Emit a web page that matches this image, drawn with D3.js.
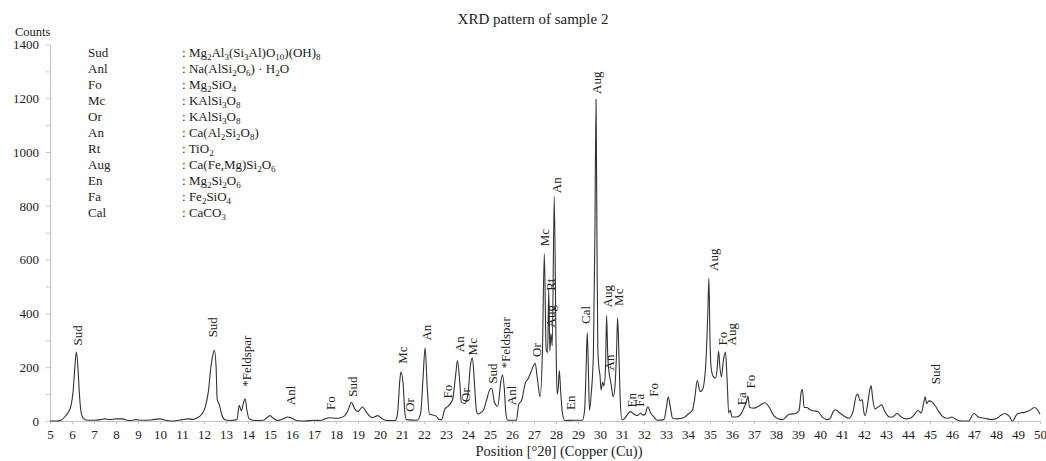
<!DOCTYPE html>
<html>
<head>
<meta charset="utf-8">
<script src="https://cdn.jsdelivr.net/npm/d3@7"></script>
<style>
  html, body { margin: 0; padding: 0; background: #fff; }
  svg { display: block; }
  text { font-family: "Liberation Serif", "Times New Roman", serif; fill: #222; }
</style>
</head>
<body>
<svg id="chart" width="1046" height="461"></svg>
<script>
// ---------------- DATA ----------------
const twoTheta = [
  5.0,5.3,5.5,5.7,5.85,5.95,6.05,6.12,6.2,6.27,6.33,6.4,6.5,6.7,7.0,7.3,7.5,7.7,8.0,8.3,8.5,8.7,8.9,9.2,9.6,10.0,10.2,10.5,10.8,11.0,11.3,11.5,11.7,11.9,
  12.05,12.2,12.3,12.4,12.47,12.55,12.6,12.7,12.8,12.95,13.2,13.5,13.6,13.7,13.8,13.87,13.95,14.05,14.3,14.7,14.9,15.0,15.15,15.35,15.6,15.8,15.95,16.2,16.6,
  17.0,17.3,17.5,17.7,18.0,18.2,18.4,18.55,18.7,18.85,19.0,19.2,19.4,19.65,19.9,20.1,20.3,20.7,20.8,20.9,20.95,21.05,21.12,21.2,21.7,21.85,21.95,22.05,
  22.15,22.25,22.4,22.55,22.7,22.8,22.95,23.1,23.3,23.45,23.52,23.62,23.7,23.85,24.0,24.1,24.2,24.3,24.38,24.45,24.55,24.7,24.85,25.0,25.08,25.2,25.35,
  25.5,25.57,25.65,25.72,25.8,26.2,26.3,26.45,26.6,26.75,26.9,27.05,27.15,27.28,27.38,27.47,27.55,27.62,27.67,27.72,27.77,27.83,27.92,28.0,28.05,28.1,
  28.15,28.22,28.3,28.4,28.8,29.2,29.3,29.37,29.42,29.47,29.52,29.6,29.7,29.77,29.82,29.86,29.9,29.95,30.0,30.05,30.12,30.18,30.25,30.3,30.35,30.42,
  30.5,30.6,30.68,30.75,30.8,30.86,30.92,31.0,31.1,31.25,31.4,31.55,31.7,31.85,31.95,32.05,32.17,32.3,32.45,32.6,32.9,33.02,33.1,33.2,33.3,33.5,33.8,
  34.0,34.2,34.3,34.42,34.55,34.65,34.8,34.9,34.95,35.0,35.05,35.15,35.25,35.32,35.39,35.45,35.52,35.6,35.7,35.78,35.85,35.92,36.0,36.2,36.4,36.55,
  36.65,36.72,36.8,37.0,37.2,37.5,37.7,37.9,38.1,38.3,38.6,38.9,39.05,39.15,39.2,39.28,39.4,39.55,39.7,39.9,40.1,40.3,40.45,40.6,40.7,40.9,41.1,41.3,
  41.5,41.65,41.72,41.82,41.92,41.98,42.05,42.15,42.25,42.32,42.4,42.5,42.6,42.7,42.8,42.95,43.15,43.3,43.5,43.7,43.9,44.1,44.3,44.45,44.6,44.72,
  44.78,44.85,44.95,45.1,45.25,45.4,45.6,45.8,46.0,46.2,46.5,46.75,47.0,47.2,47.5,47.8,48.0,48.2,48.4,48.6,48.75,48.95,49.1,49.3,49.5,49.75,49.9,50.0
];
const counts = [
  0,0,3,18,35,55,110,190,256,200,110,40,12,3,3,5,8,5,8,8,3,2,5,3,4,8,4,0,2,5,8,6,12,25,
  50,110,190,245,263,200,80,60,25,5,2,5,58,38,70,83,40,8,2,3,15,20,10,2,8,15,12,2,0,
  3,2,8,12,10,12,20,40,70,45,35,52,30,12,20,8,2,2,30,150,182,140,40,5,3,30,150,272,
  120,25,22,18,5,5,45,55,80,180,225,150,70,65,100,200,235,130,40,25,30,40,80,118,122,70,55,
  150,172,120,30,3,3,60,80,140,160,190,215,160,90,250,622,270,255,490,260,325,280,835,300,100,120,
  188,100,25,2,3,3,40,200,328,200,40,100,250,700,1196,700,274,200,170,115,145,130,200,392,250,176,
  140,90,130,250,383,250,80,5,8,25,35,25,20,30,22,25,53,30,15,3,5,50,90,50,10,8,12,
  25,40,80,150,110,115,200,400,531,300,200,165,160,190,260,200,164,220,256,150,30,40,15,15,25,50,
  70,92,50,48,55,68,50,20,8,5,25,28,40,110,118,50,50,42,38,35,15,5,8,35,42,30,18,10,
  35,95,100,75,80,40,20,55,110,132,80,45,50,55,60,35,15,15,28,15,8,10,25,40,30,70,
  90,65,75,70,55,35,15,10,15,5,0,0,28,15,10,5,8,20,28,18,0,25,30,32,38,50,40,25
];

const xTicks = d3.range(5, 51, 1);
const yTicks = [0, 200, 400, 600, 800, 1000, 1200, 1400];
const yMinorTicks = [100, 300, 500, 700, 900, 1100, 1300];

// peak labels: text, 2theta position, count level where the label starts
const labelText   = ["Sud","Sud","*Feldspar","Anl","Fo","Sud","Mc","Or","An","Fo","An","Or","Mc","Sud","*Feldspar","Anl",
                     "Or","Mc","Rt","Aug","An","En","Cal","Aug","Aug","Mc","An","En","Fa","Fo","Aug","Fo","Aug","Fa","Fo","Sud"];
const labelTheta  = [6.23,12.38,13.91,15.91,17.73,18.76,21.03,21.32,22.12,23.06,23.59,23.9,24.21,25.1,25.68,25.99,
                     27.12,27.47,27.73,27.73,28.03,28.64,29.36,29.85,30.33,30.83,30.45,31.44,31.8,32.42,35.15,35.55,35.99,36.44,36.86,45.23];
const labelCounts = [281,311,127,59,41,90,213,34,299,84,256,71,244,139,195,59,
                     238,650,484,348,847,41,361,1216,422,428,188,50,53,90,558,281,281,59,121,137];

// legend
const phaseCodes    = ["Sud","Anl","Fo","Mc","Or","An","Rt","Aug","En","Fa","Cal"];
const phaseFormulas = ["Mg2Al3(Si3Al)O10)(OH)8","Na(AlSi2O6) · H2O","Mg2SiO4","KAlSi3O8","KAlSi3O8",
                       "Ca(Al2Si2O8)","TiO2","Ca(Fe,Mg)Si2O6","Mg2Si2O6","Fe2SiO4","CaCO3"];

const titleText = "XRD pattern of sample 2";
const xTitle = "Position [°2θ] (Copper (Cu))";
const yTitle = "Counts";

// ---------------- DRAW ----------------
const svg = d3.select("#chart");
const plotLeft = 50, plotRight = 1040, plotTop = 44.5, plotBottom = 421;

const x = d3.scaleLinear().domain([5, 50]).range([plotLeft, plotRight]);
const y = d3.scaleLinear().domain([0, 1400]).range([plotBottom, plotTop]);

svg.append("rect").attr("width", 1046).attr("height", 461).attr("fill", "#fff");

const axisColor = "#c4c4c4";

// x axis
const gx = svg.append("g").attr("transform", `translate(0,${plotBottom})`)
  .call(d3.axisBottom(x).tickValues(xTicks).tickFormat(d3.format("d")).tickSize(3).tickSizeOuter(0));
gx.select(".domain").attr("stroke", axisColor);
gx.selectAll(".tick line").attr("stroke", axisColor);
gx.selectAll(".tick text").attr("font-size", 13).attr("font-family", "Liberation Serif, serif")
  .attr("fill", "#222").attr("dy", "0.71em").attr("y", 9);

// y axis
const gy = svg.append("g").attr("transform", `translate(${plotLeft},0)`)
  .call(d3.axisLeft(y).tickValues(yTicks).tickFormat(d3.format("d")).tickSize(4).tickSizeOuter(0));
gy.select(".domain").attr("stroke", axisColor);
gy.selectAll(".tick line").attr("stroke", axisColor);
gy.selectAll(".tick text").attr("font-size", 13).attr("font-family", "Liberation Serif, serif")
  .attr("fill", "#222").attr("x", -11);
const gyMinor = svg.append("g").attr("transform", `translate(${plotLeft},0)`)
  .call(d3.axisLeft(y).tickValues(yMinorTicks).tickFormat("").tickSize(4).tickSizeOuter(0));
gyMinor.select(".domain").remove();
gyMinor.selectAll(".tick line").attr("stroke", axisColor);

// curve
const pts = twoTheta.map((t, i) => [t, counts[i]]);
const line = d3.line().x(d => x(d[0])).y(d => y(d[1])).curve(d3.curveMonotoneX);
svg.append("path").datum(pts).attr("d", line)
  .attr("fill", "none").attr("stroke", "#333").attr("stroke-width", 1.1).attr("stroke-linejoin", "round");

// peak labels
svg.append("g").selectAll("text").data(labelText).join("text")
  .attr("transform", (d, i) => `translate(${x(labelTheta[i])},${y(labelCounts[i])}) rotate(-90)`)
  .attr("dy", "0.35em")
  .attr("font-size", 13)
  .attr("text-anchor", "start")
  .text(d => d);

// titles
svg.append("text").attr("x", 533).attr("y", 24).attr("text-anchor", "middle")
  .attr("font-size", 15).text(titleText);
svg.append("text").attr("x", 559).attr("y", 456).attr("text-anchor", "middle")
  .attr("font-size", 14.5).text(xTitle);
svg.append("text").attr("x", 15).attr("y", 36).attr("font-size", 12.5).text(yTitle);

// legend
const legend = svg.append("g");
phaseCodes.forEach((code, i) => {
  const yy = 56.5 + i * 16;
  legend.append("text").attr("x", 88).attr("y", yy).attr("font-size", 13).text(code);
  const t = legend.append("text").attr("x", 182).attr("y", yy).attr("font-size", 13);
  t.append("tspan").text(": ");
  const parts = phaseFormulas[i].match(/\d+|\D+/g);
  let sub = false;
  parts.forEach(p => {
    const isDigit = /^\d+$/.test(p);
    const ts = t.append("tspan").text(p);
    if (isDigit && !sub) { ts.attr("dy", 3).attr("font-size", 9); sub = true; }
    else if (isDigit) { ts.attr("font-size", 9); }
    else if (!isDigit && sub) { ts.attr("dy", -3); sub = false; }
  });
});
</script>
</body>
</html>
